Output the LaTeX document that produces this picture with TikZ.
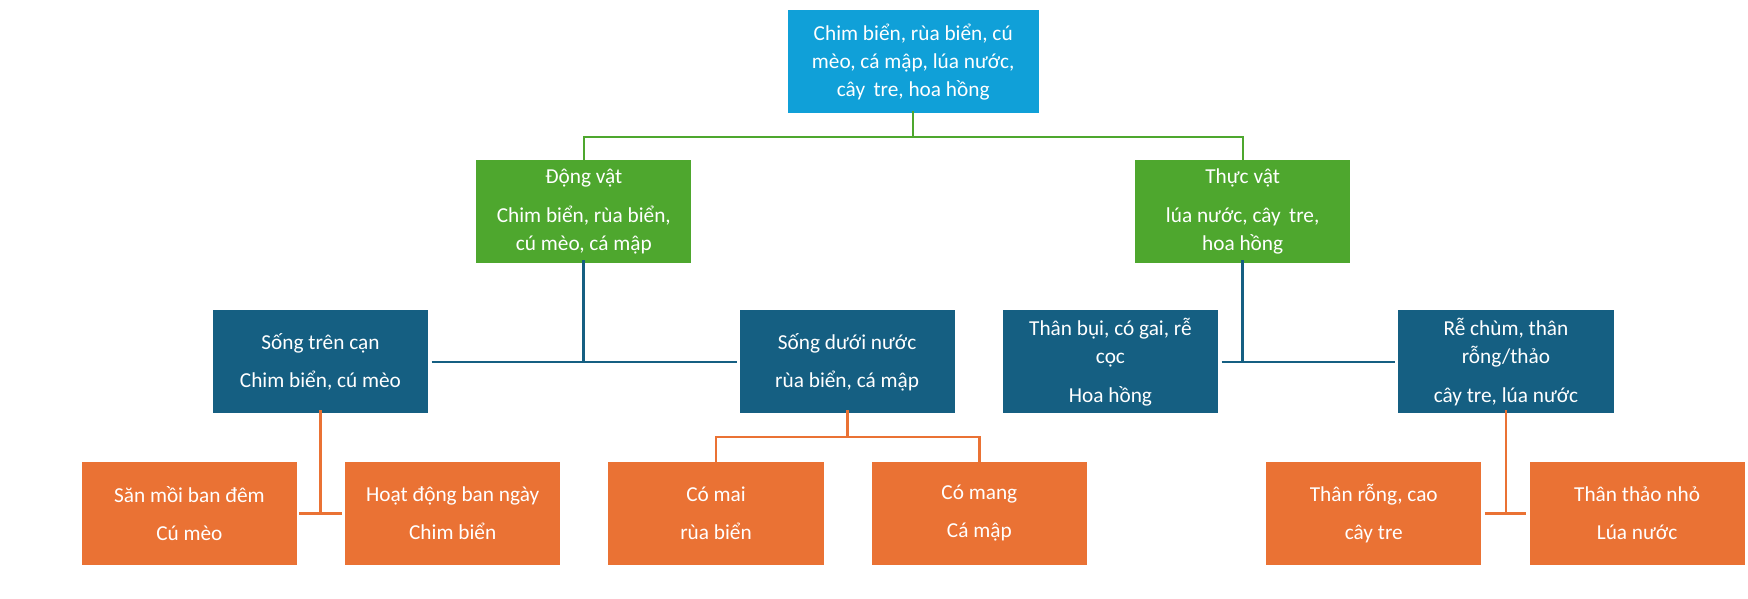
\documentclass[tikz,border=0pt]{standalone}
\usepackage{fontspec}
\setmainfont{Carlito}
\definecolor{topc}{HTML}{10A0D8}
\definecolor{grn}{HTML}{4EA72E}
\definecolor{blu}{HTML}{155F82}
\definecolor{org}{HTML}{EA7234}
\begin{document}
\begin{tikzpicture}[x=1pt,y=-1pt,
 box/.style={minimum width=192pt,minimum height=92pt,inner sep=0pt,text=white,align=center,font=\fontsize{19}{25}\selectfont},
 tbox/.style={box,fill=topc,minimum width=224pt},
 gbox/.style={box,fill=grn},
 bbox/.style={box,fill=blu},
 obox/.style={box,fill=org},
 gl/.style={draw=grn,line width=2pt},
 bl/.style={draw=blu,line width=2.5pt},
 ol/.style={draw=org,line width=2.5pt}]
\useasboundingbox (0,0) rectangle (1560,534);
\node[tbox] (top) at (815,55) {Chim biển, rùa biển, cú\\mèo, cá mập, lúa nước,\\cây\, tre, hoa hồng};
\node[gbox] (dv) at (521,189) {Động vật\\[10pt]Chim biển, rùa biển,\\cú mèo, cá mập};
\node[gbox] (tv) at (1109,189) {Thực vật\\[10pt]lúa nước, cây\, tre,\\hoa hồng};
\node[bbox] (s1) at (286,323) {Sống trên cạn\\[9pt]Chim biển, cú mèo};
\node[bbox] (s2) at (756,323) {Sống dưới nước\\[9pt]rùa biển, cá mập};
\node[bbox] (s3) at (991,323) {Thân bụi, có gai, rễ\\cọc\\[10pt]Hoa hồng};
\node[bbox] (s4) at (1344,323) {Rễ chùm, thân\\rỗng/thảo\\[10pt]cây tre, lúa nước};
\node[obox] (o1) at (169,458) {Săn mồi ban đêm\\[9pt]Cú mèo};
\node[obox] (o2) at (404,458) {Hoạt động ban ngày\\[9pt]Chim biển};
\node[obox] (o3) at (639,458) {Có mai\\[9pt]rùa biển};
\node[obox] (o4) at (874,458) {Có mang\\[9pt]Cá mập};
\node[obox] (o5) at (1226,458) {Thân rỗng, cao\\[9pt]cây tre};
\node[obox] (o6) at (1461,458) {Thân thảo nhỏ\\[9pt]Lúa nước};
% green
\coordinate (gj) at (815,122);
\draw[gl] ([yshift=2pt]top.south) -- (gj);
\draw[gl] ([yshift=-3pt]dv.north) |- (gj) -| ([yshift=-3pt]tv.north);
% blue
\draw[bl] ([yshift=3pt]dv.south) -- (521,323);
\draw[bl] ([xshift=3pt]s1.east) -- ([xshift=-2pt]s2.west);
\draw[bl] ([yshift=3pt]tv.south) -- (1109,323);
\draw[bl] ([xshift=3pt]s3.east) -- ([xshift=-3pt]s4.west);
% orange
\draw[ol] ([yshift=3pt]s1.south) -- (286,458);
\draw[ol] ([xshift=2pt]o1.east) -- ([xshift=-3pt]o2.west);
\coordinate (oj) at (756,390);
\draw[ol] ([yshift=3pt]s2.south) -- (oj);
\draw[ol] ([yshift=-4pt]o3.north) |- (oj) -| ([yshift=-4pt]o4.north);
\draw[ol] ([yshift=3pt]s4.south) -- (1344,458);
\draw[ol] ([xshift=3pt]o5.east) -- ([xshift=-3pt]o6.west);
\end{tikzpicture}
\end{document}
